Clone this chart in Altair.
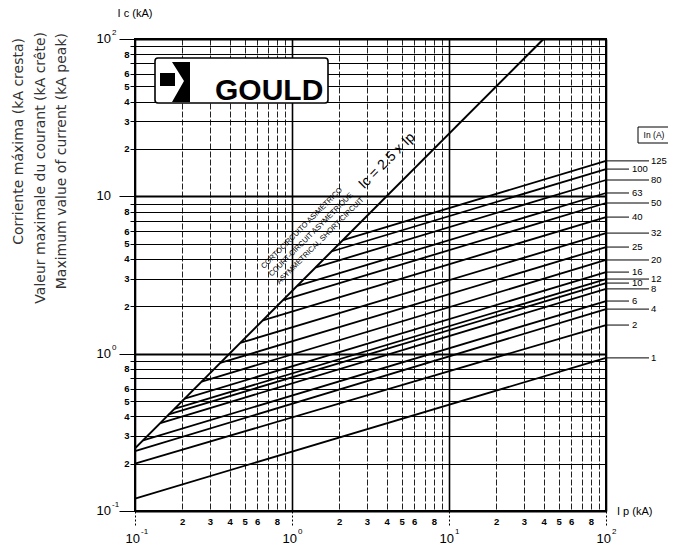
import altair as alt
import pandas as pd

# ---------------- data ----------------
ratings = [1, 2, 4, 6, 8, 10, 12, 16, 20, 25, 32, 40, 50, 63, 80, 100, 125]
ip_start = [0.1, 0.1, 0.1, 0.1125, 0.145, 0.164, 0.178, 0.207, 0.266, 0.349,
            0.468, 0.652, 0.877, 1.08, 1.42, 1.78, 2.11]
ic_start = [0.12, 0.20, 0.24, 0.281, 0.362, 0.411, 0.446, 0.518, 0.664, 0.873,
            1.17, 1.63, 2.19, 2.70, 3.54, 4.46, 5.27]
ip_end = [100] * len(ratings)
ic_end = [0.94, 1.52, 1.92, 2.16, 2.58, 2.81, 2.98, 3.30, 3.94, 4.76,
          5.84, 7.38, 9.07, 10.5, 12.7, 14.9, 16.8]

diag_ip = [0.1, 40]
diag_ic = [0.25, 100]

grid_vals = [round(m * 10.0 ** d, 6) for d in (-1, 0, 1) for m in range(1, 10)] + [100]
decades = [0.1, 1, 10, 100]
x_dec_sup = ["-1", "0", "1", "2"]
y_dec_sup = ["-1", "0", "", "2"]

y_titles = ["Corriente máxima (kA cresta)",
            "Valeur maximale du courant (kA crête)",
            "Maximum value of current (kA peak)"]
asym_lines = ["CORTOCIRCUITO ASIMÉTRICO",
              "COURT-CIRCUIT ASYMÉTRIQUE",
              "ASYMMETRICAL SHORT-CIRCUIT"]

# ---------------- tables ----------------
rows = []
for i, r in enumerate(ratings):
    rows.append({"rating": r, "ip": ip_start[i], "ic": ic_start[i], "pt": 0})
    rows.append({"rating": r, "ip": ip_end[i], "ic": ic_end[i], "pt": 1})
curves_df = pd.DataFrame(rows)
diag_df = pd.DataFrame({"ip": diag_ip, "ic": diag_ic})
leads_df = pd.DataFrame({"ic": ic_end, "label": [str(r) for r in ratings],
                         "col": [i % 2 for i in range(len(ratings))]})
long_df = leads_df[leads_df["col"] == 0]
short_df = leads_df[leads_df["col"] == 1]
xdec_df = pd.DataFrame({"ip": decades, "base": ["10"] * 4, "sup": x_dec_sup})
ydec_df = pd.DataFrame({"ic": decades, "base": ["10"] * 4, "sup": y_dec_sup})
one = pd.DataFrame({"k": [0]})

# ---------------- axes ----------------
TEST = "abs(log(datum.value)/LN10 - round(log(datum.value)/LN10)) < 0.001"
MANT = "round(datum.value / pow(10, floor(log(datum.value)/LN10 + 0.001)))"
LABEL_EXPR = f"indexof([2,3,4,5,6,8], {MANT}) >= 0 ? '' + {MANT} : ''"


def cond(a, b):
    return {"condition": {"test": TEST, "value": a}, "value": b}


x_axis = alt.Axis(values=grid_vals, grid=True, domain=False, title=None,
                  labelExpr=LABEL_EXPR, labelFont="Liberation Sans", labelFontWeight="bold",
                  labelFontSize=9.5, labelColor="black", labelPadding=5,
                  labelOverlap=False, labelFlush=False, labelBound=False,
                  tickColor="black", tickSize=cond(15, 0), tickDash=cond([2, 2], []), tickWidth=1,
                  gridColor=cond("black", "#222222"), gridWidth=cond(1.6, 1),
                  gridDash=cond([], [6, 2]), gridOpacity=1)
y_axis = alt.Axis(values=grid_vals, grid=True, domain=False, title=None,
                  labelExpr=LABEL_EXPR, labelFont="Liberation Sans", labelFontWeight="bold",
                  labelFontSize=9.5, labelColor="black", labelPadding=1,
                  labelOverlap=False, labelFlush=False, labelBound=False,
                  tickColor="black", tickSize=cond(16, 5), tickWidth=1,
                  gridColor="black", gridWidth=cond(2, 1), gridOpacity=1)

x_enc = alt.X("ip:Q", scale=alt.Scale(type="log", domain=[0.1, 100], nice=False), axis=x_axis)
y_enc = alt.Y("ic:Q", scale=alt.Scale(type="log", domain=[0.1, 100], nice=False), axis=y_axis)

SANS = "Liberation Sans, Arial, sans-serif"

# ---------------- layers ----------------
curves = alt.Chart(curves_df).mark_line(color="black", strokeWidth=1.8).encode(
    x=x_enc, y=y_enc, detail="rating:N", order="pt:Q")
diag = alt.Chart(diag_df).mark_line(color="black", strokeWidth=2).encode(x=x_enc, y=y_enc)

logo_box = alt.Chart(one).mark_rect(fill="white", stroke="black", strokeWidth=1.6,
                                    cornerRadius=3).encode(
    x=alt.value(20), x2=alt.value(193), y=alt.value(19), y2=alt.value(64))
LOGO_PATH = ("M-0.75,-0.45L0,-0.45L0,0.2L-0.75,0.2Z "
             "M-0.15,-1L0.75,-1L0.75,1L-0.15,1L0.45,-0.05Z")
logo_sym = alt.Chart(one).mark_point(shape=LOGO_PATH, filled=True, color="black",
                                     size=1600, opacity=1, strokeWidth=0).encode(
    x=alt.value(40), y=alt.value(43))
logo_txt = alt.Chart(one).mark_text(text="GOULD", font=SANS, fontWeight="bold",
                                    fontSize=30, align="left", baseline="alphabetic",
                                    color="black").encode(x=alt.value(80), y=alt.value(61))

rule_long = alt.Chart(long_df).mark_rule(color="black", strokeWidth=1).encode(
    x=alt.value(471), x2=alt.value(514), y=y_enc)
rule_short = alt.Chart(short_df).mark_rule(color="black", strokeWidth=1).encode(
    x=alt.value(471), x2=alt.value(494), y=y_enc)
lab_long = alt.Chart(long_df).mark_text(align="left", baseline="middle", font=SANS,
                                        fontSize=9.5, color="black").encode(
    x=alt.value(516), y=y_enc, text="label:N")
lab_short = alt.Chart(short_df).mark_text(align="left", baseline="middle", font=SANS,
                                          fontSize=9.5, color="black").encode(
    x=alt.value(497), y=y_enc, text="label:N")

in_box = alt.Chart(one).mark_rect(fill="white", stroke="black", strokeWidth=1).encode(
    x=alt.value(503), x2=alt.value(535), y=alt.value(88), y2=alt.value(104))
in_txt = alt.Chart(one).mark_text(text="In (A)", font=SANS, fontSize=8.5, color="black",
                                  align="center", baseline="middle").encode(
    x=alt.value(519), y=alt.value(96))

eq_txt = alt.Chart(one).mark_text(text="Ic = 2.5 x Ip", font=SANS, fontSize=14, angle=315,
                                  align="center", baseline="middle", color="black").encode(
    x=alt.value(252), y=alt.value(122))
asym_txt = alt.Chart(one).mark_text(text=asym_lines, font=SANS, fontSize=7.5, angle=315,
                                    align="left", baseline="alphabetic", lineHeight=11,
                                    color="black").encode(x=alt.value(129), y=alt.value(230))

ydec_base = alt.Chart(ydec_df).mark_text(align="right", baseline="middle", font=SANS,
                                         fontSize=13, color="black").encode(
    x=alt.value(-24), y=y_enc, text="base:N")
ydec_sup = alt.Chart(ydec_df).mark_text(align="left", baseline="middle", font=SANS,
                                        fontSize=8, dy=-6, color="black").encode(
    x=alt.value(-23), y=y_enc, text="sup:N")
xdec_base = alt.Chart(xdec_df).mark_text(align="right", baseline="middle", font=SANS,
                                         fontSize=13, dx=5, color="black").encode(
    x=x_enc, y=alt.value(500), text="base:N")
xdec_sup = alt.Chart(xdec_df).mark_text(align="left", baseline="middle", font=SANS,
                                        fontSize=8, dx=6, dy=-7, color="black").encode(
    x=x_enc, y=alt.value(500), text="sup:N")

title_pos = [(-116, -1), (-94, -7), (-73, -6)]
ytitle_layers = []
for t, (px, py) in zip(y_titles, title_pos):
    ytitle_layers.append(
        alt.Chart(one).mark_text(text=t, font="DejaVu Sans", fontSize=14, angle=270,
                                 align="right", baseline="middle", color="#333").encode(
            x=alt.value(px), y=alt.value(py)))

ic_title = alt.Chart(one).mark_text(text="I c (kA)", font=SANS, fontSize=11,
                                    align="center", baseline="middle", color="black").encode(
    x=alt.value(0), y=alt.value(-25))
ip_title = alt.Chart(one).mark_text(text="I p (kA)", font=SANS, fontSize=11,
                                    align="left", baseline="middle", color="black").encode(
    x=alt.value(482), y=alt.value(473))

chart = alt.layer(
    curves, diag, logo_box, logo_sym, logo_txt,
    rule_long, rule_short, lab_long, lab_short, in_box, in_txt,
    eq_txt, asym_txt, ydec_base, ydec_sup, xdec_base, xdec_sup,
    *ytitle_layers, ic_title, ip_title
).properties(
    width=471, height=472,
    autosize=alt.AutoSizeParams(type="none"),
    padding={"left": 127, "top": 31, "right": 62, "bottom": 38},
    background="white",
).configure_view(stroke="black", strokeWidth=2)

chart.save("out.html", embed_options={"renderer": "svg", "actions": False})
